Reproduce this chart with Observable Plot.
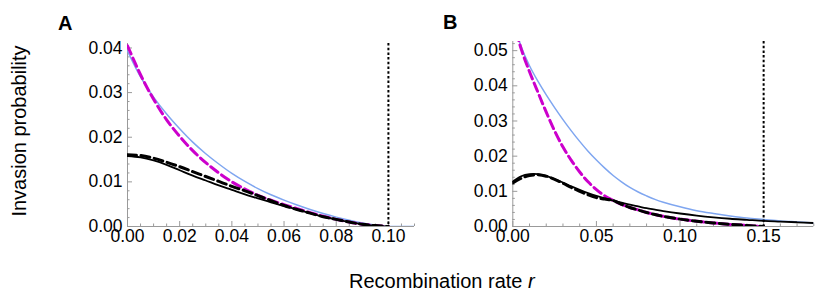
<!DOCTYPE html>
<html><head><meta charset="utf-8">
<script src="https://cdn.jsdelivr.net/npm/d3@7"></script>
<script src="https://cdn.jsdelivr.net/npm/@observablehq/plot@0.6"></script>
<style>
body{margin:0;background:#fff;}
#wrap{position:relative;width:830px;height:297px;font-family:"Liberation Sans",Arial,sans-serif;}
#wrap svg{position:absolute;top:0;}
</style></head><body><div id="wrap"></div>
<script>
// ---------- Panel A data ----------
const rA = [0,0.005,0.01,0.015,0.02,0.025,0.03,0.035,0.04,0.045,0.05,0.055,0.06,0.065,0.07,0.075,0.08,0.085,0.09,0.095,0.10];
const rAblue = [0,0.005,0.01,0.015,0.02,0.025,0.03,0.035,0.04,0.045,0.05,0.055,0.06,0.065,0.07,0.075,0.08,0.085,0.09,0.095,0.10,0.105,0.11];
const blueA = [0.0393,0.0335,0.0290,0.0252,0.0219,0.0189,0.0163,0.0140,0.0119,0.0101,0.0085,0.0071,0.0059,0.0048,0.0038,0.0029,0.0021,0.0014,0.0008,0.0003,0.0000,0.0000,0.0000];
const magentaA = [0.0405,0.0340,0.0285,0.0239,0.0202,0.0170,0.0143,0.0120,0.0100,0.0084,0.0070,0.0059,0.0049,0.0040,0.0031,0.0023,0.0016,0.0010,0.0005,0.0002,0.0000];
const dashA = [0.0161,0.0159,0.0153,0.0144,0.0134,0.0123,0.0112,0.0101,0.0090,0.0080,0.0069,0.0058,0.0047,0.0038,0.0030,0.0022,0.0016,0.0010,0.0005,0.0002,0.0000];
const solidA = [0.0158,0.0155,0.0148,0.0138,0.0126,0.0114,0.0103,0.0092,0.0082,0.0072,0.0063,0.0054,0.0046,0.0038,0.0030,0.0022,0.0016,0.0010,0.0005,0.0002,0.0000];
const critA = 0.10;
const xMajorA = [0,0.02,0.04,0.06,0.08,0.10];
const xMinorA = [0.005,0.01,0.015,0.025,0.03,0.035,0.045,0.05,0.055,0.065,0.07,0.075,0.085,0.09,0.095,0.105,0.11];
const yMajorA = [0,0.01,0.02,0.03,0.04];
const yMinorA = [0.002,0.004,0.006,0.008,0.012,0.014,0.016,0.018,0.022,0.024,0.026,0.028,0.032,0.034,0.036,0.038];

// ---------- Panel B data ----------
const rB = [0,0.005,0.01,0.015,0.02,0.025,0.03,0.035,0.04,0.045,0.05,0.055,0.06,0.065,0.07,0.075,0.08,0.085,0.09,0.10,0.11,0.12,0.13,0.14,0.15,0.16,0.17,0.18];
const blueB = [0.0590,0.0512,0.0457,0.0413,0.0374,0.0338,0.0304,0.0272,0.0242,0.0214,0.0189,0.0166,0.0145,0.0127,0.0111,0.0098,0.0087,0.0077,0.0069,0.0056,0.0045,0.0037,0.0030,0.0024,0.0020,0.0016,0.0013,0.0010];
const magentaB = [0.0590,0.0505,0.0440,0.0382,0.0325,0.0272,0.0226,0.0188,0.0155,0.0127,0.0105,0.0087,0.0074,0.0063,0.0054,0.0047,0.0040,0.0034,0.0029,0.0021,0.0015,0.0010,0.0006,0.0003,0.0000];
const dashB = [0.0124,0.0137,0.0145,0.0147,0.0143,0.0134,0.0123,0.0111,0.0100,0.0090,0.0082,0.0078,0.0074,0.0063,0.0054,0.0047,0.0040,0.0034,0.0029,0.0021,0.0015,0.0010,0.0006,0.0003,0.0000];
const solidB = [0.0128,0.0143,0.0149,0.0149,0.0144,0.0135,0.0125,0.0114,0.0104,0.0095,0.0087,0.0080,0.0074,0.0068,0.0062,0.0057,0.0052,0.0048,0.0044,0.0037,0.0031,0.0026,0.0022,0.0019,0.0016,0.0014,0.0012,0.0010];
const critB = 0.15;
const xMajorB = [0,0.05,0.10,0.15];
const xMinorB = [0.01,0.02,0.03,0.04,0.06,0.07,0.08,0.09,0.11,0.12,0.13,0.14,0.16,0.17,0.18];
const yMajorB = [0,0.01,0.02,0.03,0.04,0.05];
const yMinorB = [0.002,0.004,0.006,0.008,0.012,0.014,0.016,0.018,0.022,0.024,0.026,0.028,0.032,0.034,0.036,0.038,0.042,0.044,0.046,0.048,0.052];

// ---------- styling ----------
const BLUE = "#7fa6f0", MAG = "#cc00cc", GRAY = "#9a9a9a";
const rows = (xs, ys) => ys.map((v, i) => ({r: xs[i], v}));
const fmt = d3.format(".2f");

function panel({width, ml, mr, mt, mb, xDomain, yDomain, xMajor, xMinor, yMajor, yMinor, blue, mag, dash, solid, crit}) {
  return Plot.plot({
    width, height: 297,
    marginLeft: ml, marginRight: mr, marginTop: mt, marginBottom: mb,
    x: {domain: xDomain, axis: null, label: null},
    y: {domain: yDomain, axis: null, label: null},
    style: {fontFamily: "'Liberation Sans', Arial, sans-serif", fontSize: "17.5px", background: "transparent", overflow: "visible"},
    marks: [
      Plot.ruleY([0], {stroke: GRAY, strokeWidth: 1}),
      Plot.ruleX([0], {stroke: GRAY, strokeWidth: 1}),
      Plot.axisX({ticks: xMajor, tickSize: 5, dy: -5, stroke: GRAY, tickFormat: () => ""}),
      Plot.axisX({ticks: xMinor, tickSize: 2.5, dy: -2.5, stroke: GRAY, tickFormat: () => ""}),
      Plot.axisY({ticks: yMajor, tickSize: 5, dx: 5, stroke: GRAY, tickFormat: () => ""}),
      Plot.axisY({ticks: yMinor, tickSize: 2.5, dx: 2.5, stroke: GRAY, tickFormat: () => ""}),
      Plot.axisX({ticks: xMajor, tickSize: 0, tickPadding: 3, tickFormat: fmt, fill: "black", fontSize: 17.5}),
      Plot.axisY({ticks: yMajor, tickSize: 0, tickPadding: 5, tickFormat: fmt, fill: "black", fontSize: 17.5}),
      Plot.line(blue, {x: "r", y: "v", stroke: BLUE, strokeWidth: 1.5, curve: "catmull-rom", clip: true}),
      Plot.line(mag, {x: "r", y: "v", stroke: MAG, strokeWidth: 3, strokeDasharray: "9,4.5", curve: "catmull-rom", clip: true}),
      Plot.line(solid, {x: "r", y: "v", stroke: "black", strokeWidth: 1.8, curve: "catmull-rom", clip: true}),
      Plot.line(dash, {x: "r", y: "v", stroke: "black", strokeWidth: 3, strokeDasharray: "9,4.5", curve: "catmull-rom", clip: true}),
      Plot.ruleX([crit], {stroke: "black", strokeWidth: 2, strokeDasharray: "2.5,2.2"})
    ]
  });
}

const wrap = document.getElementById("wrap");
const A = panel({width: 420, ml: 127, mr: 6, mt: 43, mb: 71, xDomain: [0, 0.11], yDomain: [0, 0.041],
  xMajor: xMajorA, xMinor: xMinorA, yMajor: yMajorA, yMinor: yMinorA,
  blue: rows(rAblue, blueA), mag: rows(rA, magentaA), dash: rows(rA, dashA), solid: rows(rA, solidA), crit: critA});
A.style.left = "0px";
wrap.appendChild(A);
const B = panel({width: 410, ml: 92.3, mr: 16.7, mt: 41, mb: 71, xDomain: [0, 0.18], yDomain: [0, 0.0526],
  xMajor: xMajorB, xMinor: xMinorB, yMajor: yMajorB, yMinor: yMinorB,
  blue: rows(rB, blueB), mag: rows(rB, magentaB), dash: rows(rB, dashB), solid: rows(rB, solidB), crit: critB});
B.style.left = "420px";
wrap.appendChild(B);

// overlay labels
const ns = "http://www.w3.org/2000/svg";
const ov = document.createElementNS(ns, "svg");
ov.setAttribute("width", 830); ov.setAttribute("height", 297);
ov.style.left = "0px"; ov.style.pointerEvents = "none";
ov.innerHTML = `
<g font-family="'Liberation Sans', Arial, sans-serif" fill="black">
  <text x="58" y="29.5" font-size="20" font-weight="bold">A</text>
  <text x="443" y="28.5" font-size="20" font-weight="bold">B</text>
  <text transform="translate(26,131) rotate(-90)" text-anchor="middle" font-size="20">Invasion probability</text>
  <text x="349" y="288" font-size="20">Recombination rate <tspan font-style="italic">r</tspan></text>
</g>`;
wrap.appendChild(ov);
</script>
</body></html>
